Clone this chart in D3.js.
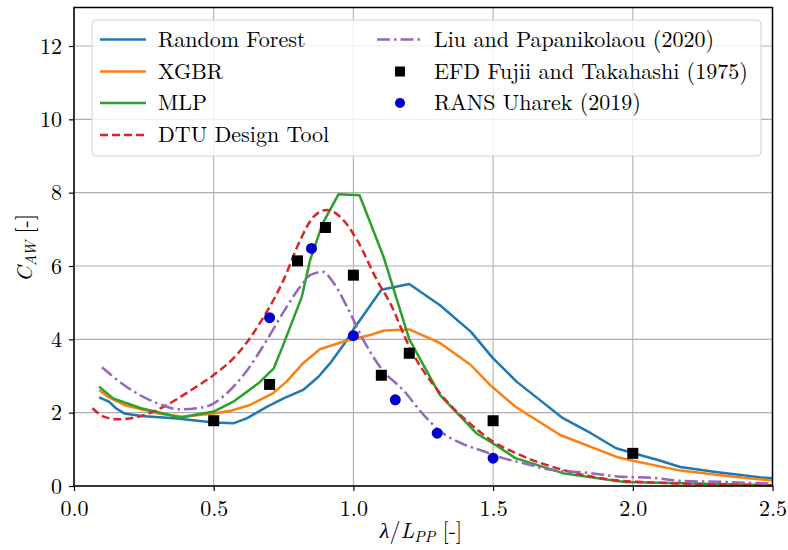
<!DOCTYPE html>
<html>
<head>
<meta charset="utf-8">
<script src="https://cdn.jsdelivr.net/npm/d3@7"></script>
<style>
  body { margin: 0; background: #fff; }
</style>
</head>
<body>
<svg id="chart" width="788" height="550"></svg>
<script>
// ---- Data ----
const xTicks = [0.0, 0.5, 1.0, 1.5, 2.0, 2.5];
const yTicks = [0, 2, 4, 6, 8, 10, 12];

const rfX = [0.09, 0.125, 0.15, 0.18, 0.24, 0.36, 0.5, 0.57, 0.62, 0.69, 0.75, 0.82, 0.875, 0.92, 0.965, 1.0, 1.1, 1.2, 1.31, 1.42, 1.5, 1.585, 1.66, 1.75, 1.85, 1.94, 2.0, 2.09, 2.17, 2.29, 2.46, 2.5];
const rfY = [2.42, 2.30, 2.12, 1.98, 1.91, 1.85, 1.73, 1.71, 1.85, 2.16, 2.39, 2.62, 2.98, 3.38, 3.85, 4.27, 5.35, 5.51, 4.93, 4.21, 3.48, 2.84, 2.39, 1.85, 1.44, 1.03, 0.90, 0.71, 0.52, 0.39, 0.23, 0.21];

const xgbX = [0.09, 0.12, 0.18, 0.3, 0.39, 0.5, 0.56, 0.63, 0.71, 0.76, 0.82, 0.88, 0.965, 1.0, 1.06, 1.11, 1.2, 1.31, 1.42, 1.49, 1.58, 1.74, 1.94, 2.0, 2.17, 2.33, 2.5];
const xgbY = [2.62, 2.44, 2.21, 1.98, 1.89, 1.98, 2.05, 2.21, 2.52, 2.84, 3.35, 3.73, 3.94, 4.01, 4.12, 4.24, 4.27, 3.90, 3.30, 2.75, 2.16, 1.39, 0.80, 0.69, 0.42, 0.28, 0.15];

const mlpX = [0.09, 0.14, 0.24, 0.38, 0.5, 0.57, 0.66, 0.715, 0.75, 0.815, 0.845, 0.89, 0.947, 1.022, 1.108, 1.2, 1.31, 1.44, 1.5, 1.58, 1.75, 1.97, 2.5];
const mlpY = [2.71, 2.39, 2.12, 1.87, 2.03, 2.30, 2.80, 3.21, 3.87, 5.15, 6.16, 7.16, 7.96, 7.93, 6.25, 4.00, 2.48, 1.44, 1.16, 0.76, 0.35, 0.11, 0.02];

const dtuX = [0.066, 0.107, 0.155, 0.24, 0.32, 0.42, 0.5, 0.585, 0.67, 0.75, 0.81, 0.857, 0.905, 0.953, 1.013, 1.084, 1.132, 1.2, 1.31, 1.43, 1.5, 1.58, 1.75, 2.0, 2.5];
const dtuY = [2.12, 1.89, 1.82, 1.91, 2.16, 2.62, 3.03, 3.60, 4.50, 5.62, 6.71, 7.34, 7.53, 7.34, 6.71, 5.62, 4.98, 3.80, 2.53, 1.62, 1.21, 0.90, 0.44, 0.12, 0.02];

const liuX = [0.1, 0.18, 0.3, 0.38, 0.47, 0.54, 0.62, 0.69, 0.75, 0.81, 0.845, 0.89, 0.93, 0.977, 1.036, 1.1, 1.18, 1.25, 1.31, 1.4, 1.47, 1.5, 1.56, 1.61, 1.69, 1.85, 1.93, 2.09, 2.17, 2.33, 2.5];
const liuY = [3.24, 2.75, 2.25, 2.09, 2.16, 2.48, 3.16, 3.98, 4.75, 5.44, 5.75, 5.84, 5.53, 4.89, 3.98, 3.20, 2.60, 1.95, 1.50, 1.12, 0.94, 0.85, 0.71, 0.62, 0.46, 0.35, 0.27, 0.21, 0.14, 0.11, 0.06];

const efdX = [0.5, 0.7, 0.8, 0.9, 1.0, 1.1, 1.2, 1.5, 2.0];
const efdY = [1.78, 2.77, 6.14, 7.05, 5.75, 3.02, 3.62, 1.78, 0.89];

const ransX = [0.7, 0.85, 1.0, 1.15, 1.3, 1.5];
const ransY = [4.59, 6.48, 4.10, 2.35, 1.44, 0.76];

const lineSeries = [
  { name: "Random Forest", xs: rfX, ys: rfY, color: "#1f77b4", dash: null, smooth: false },
  { name: "XGBR", xs: xgbX, ys: xgbY, color: "#ff7f0e", dash: null, smooth: false },
  { name: "MLP", xs: mlpX, ys: mlpY, color: "#2ca02c", dash: null, smooth: false },
  { name: "DTU Design Tool", xs: dtuX, ys: dtuY, color: "#d62728", dash: "8,4", smooth: true },
  { name: "Liu and Papanikolaou (2020)", xs: liuX, ys: liuY, color: "#9467bd", dash: "13,4,2.5,4", smooth: true }
];

const FONT = "'Latin Modern Roman'";
const FS = "22px";
const SUB = "15.5px";

// ---- Layout ----
const svg = d3.select("#chart");
const L = 74, R = 772.5, T = 7.5, B = 486;
const x = d3.scaleLinear().domain([0, 2.5]).range([L, R]);
const y = d3.scaleLinear().domain([0, 13.05]).range([B, T]);

// grid
const grid = svg.append("g");
grid.selectAll(".gx").data(xTicks).join("line")
  .attr("x1", d => x(d)).attr("x2", d => x(d)).attr("y1", T).attr("y2", B)
  .attr("stroke", "#b0b0b0").attr("stroke-width", 1.1);
grid.selectAll(".gy").data(yTicks).join("line")
  .attr("x1", L).attr("x2", R).attr("y1", d => y(d)).attr("y2", d => y(d))
  .attr("stroke", "#b0b0b0").attr("stroke-width", 1.1);

// lines
const plot = svg.append("g");
lineSeries.forEach(s => {
  const pts = s.xs.map((v, i) => [v, s.ys[i]]);
  const gen = d3.line().x(d => x(d[0])).y(d => y(d[1]))
    .curve(s.smooth ? d3.curveMonotoneX : d3.curveLinear);
  plot.append("path")
    .attr("d", gen(pts))
    .attr("fill", "none").attr("stroke", s.color).attr("stroke-width", 2.5)
    .attr("stroke-dasharray", s.dash)
    .attr("stroke-linejoin", "round");
});

// markers
plot.selectAll(".efd").data(efdX.map((v, i) => [v, efdY[i]])).join("rect")
  .attr("x", d => x(d[0]) - 5.5).attr("y", d => y(d[1]) - 5.5)
  .attr("width", 11).attr("height", 11).attr("fill", "#000");
plot.selectAll(".rans").data(ransX.map((v, i) => [v, ransY[i]])).join("circle")
  .attr("cx", d => x(d[0])).attr("cy", d => y(d[1])).attr("r", 5.5)
  .attr("fill", "#0000cc");

// axes
const xAxis = svg.append("g").attr("transform", `translate(0,${B})`)
  .call(d3.axisBottom(x).tickValues(xTicks).tickFormat(d3.format(".1f")).tickSizeOuter(0).tickSize(5).tickPadding(6));
const yAxis = svg.append("g").attr("transform", `translate(${L},0)`)
  .call(d3.axisLeft(y).tickValues(yTicks).tickFormat(d3.format("d")).tickSizeOuter(0).tickSize(5).tickPadding(7));
[xAxis, yAxis].forEach(a => {
  a.attr("font-family", null).attr("font-size", null);
  a.select(".domain").remove();
  a.selectAll(".tick line").attr("stroke", "#000").attr("stroke-width", 1.2);
  a.selectAll(".tick text").style("font-family", FONT).style("font-size", FS).attr("fill", "#000");
});
xAxis.selectAll(".tick text").attr("dy", "0.85em");

// frame
svg.append("rect").attr("x", L).attr("y", T).attr("width", R - L).attr("height", B - T)
  .attr("fill", "none").attr("stroke", "#000").attr("stroke-width", 1.5);

// axis labels
const xl = svg.append("text").attr("x", 421).attr("y", 538).attr("text-anchor", "middle")
  .style("font-family", FONT).style("font-size", FS);
xl.append("tspan").style("font-style", "italic").text("λ");
xl.append("tspan").text("/");
xl.append("tspan").style("font-style", "italic").text("L");
xl.append("tspan").style("font-style", "italic").style("font-size", SUB).attr("dy", 4).text("PP");
xl.append("tspan").attr("dy", -4).text(" [-]");

const yl = svg.append("text").attr("transform", "translate(32,248) rotate(-90)")
  .attr("text-anchor", "middle").style("font-family", FONT).style("font-size", FS);
yl.append("tspan").style("font-style", "italic").text("C");
yl.append("tspan").style("font-style", "italic").style("font-size", SUB).attr("dy", 4).text("AW");
yl.append("tspan").attr("dy", -4).text(" [-]");

// legend
const lg = svg.append("g");
lg.append("rect").attr("x", 92).attr("y", 20).attr("width", 669).attr("height", 136)
  .attr("rx", 4).attr("fill", "#fff").attr("fill-opacity", 0.8)
  .attr("stroke", "#d0d0d0").attr("stroke-width", 1);
const rows = [39.5, 71.5, 103, 135];
function legText(xp, yp, str) {
  lg.append("text").attr("x", xp).attr("y", yp).attr("dy", "0.33em")
    .style("font-family", FONT).style("font-size", FS).text(str);
}
lineSeries.slice(0, 4).forEach((s, i) => {
  lg.append("line").attr("x1", 100).attr("x2", 146).attr("y1", rows[i]).attr("y2", rows[i])
    .attr("stroke", s.color).attr("stroke-width", 2.5).attr("stroke-dasharray", s.dash);
  legText(158, rows[i], s.name);
});
const liu = lineSeries[4];
lg.append("line").attr("x1", 377).attr("x2", 423).attr("y1", rows[0]).attr("y2", rows[0])
  .attr("stroke", liu.color).attr("stroke-width", 2.5).attr("stroke-dasharray", liu.dash);
legText(434, rows[0], liu.name);
lg.append("rect").attr("x", 395).attr("y", rows[1] - 5).attr("width", 10).attr("height", 10).attr("fill", "#000");
legText(434, rows[1], "EFD Fujii and Takahashi (1975)");
lg.append("circle").attr("cx", 400).attr("cy", rows[2]).attr("r", 5).attr("fill", "#0000cc");
legText(434, rows[2], "RANS Uharek (2019)");
</script>
</body>
</html>
